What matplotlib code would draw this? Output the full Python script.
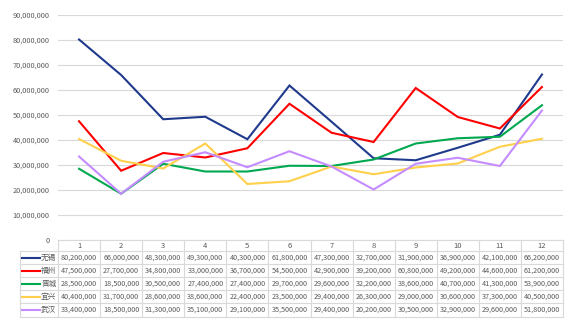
import matplotlib.pyplot as plt
from matplotlib.lines import Line2D
from matplotlib.ticker import FuncFormatter

plt.rcParams['font.family'] = ['Noto Sans CJK SC', 'DejaVu Sans']

months = list(range(1, 13))
cities = ["无锡", "福州", "晋城", "宜兴", "武汉"]
wuxi = [80200000, 66000000, 48300000, 49300000, 40300000, 61800000,
        47300000, 32700000, 31900000, 36900000, 42100000, 66200000]
fuzhou = [47500000, 27700000, 34800000, 33000000, 36700000, 54500000,
          42900000, 39200000, 60800000, 49200000, 44600000, 61200000]
jincheng = [28500000, 18500000, 30500000, 27400000, 27400000, 29700000,
            29600000, 32200000, 38600000, 40700000, 41300000, 53900000]
yixing = [40400000, 31700000, 28600000, 38600000, 22400000, 23500000,
          29400000, 26300000, 29000000, 30600000, 37300000, 40500000]
wuhan = [33400000, 18500000, 31300000, 35100000, 29100000, 35500000,
         29400000, 20200000, 30500000, 32900000, 29600000, 51800000]
series = [wuxi, fuzhou, jincheng, yixing, wuhan]
colors = ["#1F3A8C", "#FF0000", "#00A84F", "#FFD04B", "#C58CFF"]

W, H = 580, 331
fig = plt.figure(figsize=(W / 100, H / 100), dpi=100)

# plot area in pixel coordinates
x0, x1 = 58, 563
y_top, y_zero = 15, 240
ax = fig.add_axes([x0 / W, 1 - y_zero / H, (x1 - x0) / W, (y_zero - y_top) / H])

for vals, c in zip(series, colors):
    ax.plot(months, vals, color=c, linewidth=1.5, solid_joinstyle="miter")

ax.set_xlim(0.5, 12.5)
ax.set_ylim(0, 90000000)
ax.set_yticks(range(0, 90000001, 10000000))
ax.yaxis.set_major_formatter(FuncFormatter(lambda v, p: f"{int(v):,}"))
ax.tick_params(axis="y", length=0, labelsize=5.3, labelcolor="#595959", pad=6)
ax.set_xticks([])
ax.grid(axis="y", color="#D9D9D9", linewidth=0.8)
ax.set_axisbelow(True)
for s in ax.spines.values():
    s.set_visible(False)

# data table below the plot
tab = fig.add_axes([0, 0, 1, 1])
tab.set_xlim(0, W)
tab.set_ylim(H, 0)
tab.axis("off")

grid_c = "#D9D9D9"
col_w = (x1 - x0) / 12
row_edges = [240, 251, 264, 277, 290, 303, 317]
leg_x = 20

# horizontal lines
tab.plot([x0, x1], [row_edges[0]] * 2, color=grid_c, lw=0.8)
for y in row_edges[1:]:
    tab.plot([leg_x, x1], [y, y], color=grid_c, lw=0.8)
# vertical lines
tab.plot([leg_x, leg_x], [row_edges[1], row_edges[-1]], color=grid_c, lw=0.8)
for i in range(13):
    x = x0 + i * col_w
    tab.plot([x, x], [row_edges[0], row_edges[-1]], color=grid_c, lw=0.8)

# header
for i, m in enumerate(months):
    tab.text(x0 + (i + 0.5) * col_w, (row_edges[0] + row_edges[1]) / 2, str(m),
             ha="center", va="center", fontsize=5.5, color="#595959")

# rows
for r, (name, vals, c) in enumerate(zip(cities, series, colors)):
    yc = (row_edges[r + 1] + row_edges[r + 2]) / 2
    tab.add_line(Line2D([leg_x + 2, leg_x + 20], [yc, yc], color=c, lw=1.5))
    tab.text(leg_x + 21, yc, name, ha="left", va="center", fontsize=5.5,
             color="#595959")
    for i, v in enumerate(vals):
        tab.text(x0 + (i + 0.5) * col_w, yc, f"{v:,}", ha="center", va="center",
                 fontsize=5.2, color="#595959")

fig.savefig("out.png", dpi=100)
